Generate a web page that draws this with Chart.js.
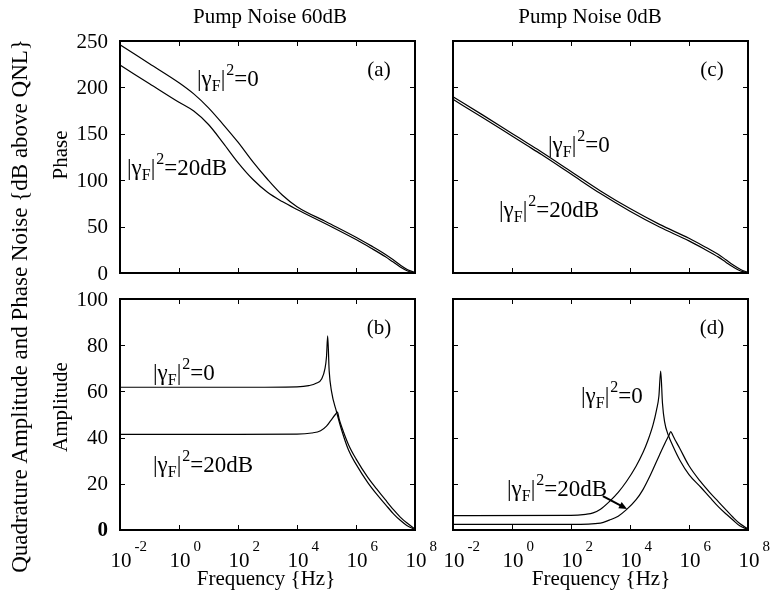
<!DOCTYPE html>
<html>
<head>
<meta charset="utf-8">
<title>Quadrature noise spectra</title>
<script src="https://cdn.jsdelivr.net/npm/chart.js@4.4.0/dist/chart.umd.min.js"></script>
<style>
  html, body { margin: 0; padding: 0; background: #fff; }
  #wrap { position: relative; width: 770px; height: 597px; background: #fff; }
  #wrap canvas { position: absolute; left: 0; top: 0; }
</style>
</head>
<body>
<div id="wrap">
  <canvas id="chartA" width="770" height="597"></canvas>
  <canvas id="chartB" width="770" height="597"></canvas>
  <canvas id="chartC" width="770" height="597"></canvas>
  <canvas id="chartD" width="770" height="597"></canvas>
</div>
<script>
// --- values; x is given as log10(frequency / Hz) ---
const xTickExp = [-2, 0, 2, 4, 6, 8];
const phaseTicks = [0, 50, 100, 150, 200, 250];
const ampTicks = [0, 20, 40, 60, 80, 100];

// (a) phase, pump noise 60dB
const expA = [-2, -1, 0, 0.5, 1, 1.5, 2, 2.5, 3, 3.5, 4, 5, 6, 6.5, 7, 7.25, 7.5, 7.75, 8];
const phaseA0 = [246, 225.5, 205, 193, 178, 160, 141, 120, 101, 84, 71.5, 55, 38.5, 29.5, 20, 14.5, 8.5, 3.5, 0.6];
const phaseA20 = [224, 204, 184, 174.5, 160, 140, 119, 101, 87, 77, 68.5, 52.5, 36, 27, 17.5, 12, 6.5, 2.2, 0.2];

// (c) phase, pump noise 0dB
const expC = [-2, -1, 0, 0.5, 1, 2, 3, 4, 5, 6, 6.5, 7, 7.25, 7.5, 7.75, 8];
const phaseC0 = [190, 170.4, 150.4, 140.4, 130.4, 109.4, 88.4, 69.4, 52.4, 37.4, 28.9, 19.9, 14.3, 8.6, 3.8, 0.7];
const phaseC20 = [187.1, 167.6, 147.6, 137.6, 127.6, 106.6, 85.6, 66.6, 49.6, 34.6, 26.1, 17.1, 11.7, 6.4, 2.2, 0.3];

// (b) amplitude, pump noise 60dB
const expB0 = [-2, 2, 4, 4.4, 4.65, 4.84, 4.95, 5.0, 5.04, 5.09, 5.17, 5.34, 5.51, 5.75, 6.0, 6.4, 6.7, 7.0, 7.27, 7.5, 7.72, 8];
const ampB0 = [61.8, 61.8, 62, 62.5, 63.5, 65.5, 70, 75, 84, 69, 60, 51.2, 43.4, 34.5, 28.5, 20.5, 15.5, 11, 7, 4.2, 2, 0.2];
const expB20 = [-2, 2, 4, 4.5, 4.8, 5.0, 5.15, 5.3, 5.37, 5.43, 5.51, 5.75, 6.0, 6.4, 6.7, 7.0, 7.27, 7.5, 7.72, 8];
const ampB20 = [41.4, 41.4, 41.5, 42, 43, 45, 47.5, 50, 51, 48, 44.8, 36.8, 30.8, 22.8, 17.8, 13, 8.8, 5.6, 3.1, 0.5];

// (d) amplitude, pump noise 0dB
const expD0 = [-2, 2, 2.5, 2.75, 3.0, 3.3, 3.6, 3.88, 4.2, 4.44, 4.6, 4.78, 4.9, 4.98, 5.04, 5.1, 5.17, 5.3, 5.45, 5.7, 6.0, 6.4, 6.7, 7.0, 7.27, 7.5, 7.72, 8];
const ampD0 = [6.2, 6.3, 6.8, 7.4, 9, 12.3, 16.3, 21, 27.5, 33.5, 38.5, 45.5, 52, 58, 68.8, 55, 47, 41, 36.5, 30, 24, 18.5, 14.2, 10, 6.8, 4.2, 1.8, 0.2];
const expD20 = [-2, 2, 3.0, 3.3, 3.6, 3.88, 4.2, 4.44, 4.7, 5.0, 5.2, 5.32, 5.38, 5.45, 5.55, 5.68, 6.0, 6.4, 6.7, 7.0, 7.27, 7.5, 7.72, 8];
const ampD20 = [2.4, 2.45, 3.0, 4.3, 6, 8.8, 13, 17.5, 24, 32.5, 38, 41, 42.6, 41, 38.5, 35.5, 27.8, 20.8, 16.3, 12.2, 8.5, 5.4, 2.8, 0.5];

const SERIF = '"Liberation Serif", "Times New Roman", serif';

function toPoints(exps, vals) {
  return exps.map((e, i) => ({ x: Math.pow(10, e), y: vals[i] }));
}

function curve(exps, vals) {
  return {
    data: toPoints(exps, vals),
    borderColor: '#000',
    borderWidth: 1.2,
    pointRadius: 0,
    fill: false,
    cubicInterpolationMode: 'monotone'
  };
}

// |γ_F|^2 = tail, drawn from x with baseline y
function drawGamma(ctx, x, y, tail) {
  ctx.textAlign = 'left';
  ctx.textBaseline = 'alphabetic';
  let cx = x;
  ctx.font = '23px ' + SERIF;
  ctx.fillText('|γ', cx, y);
  cx += ctx.measureText('|γ').width;
  ctx.font = '16px ' + SERIF;
  ctx.fillText('F', cx, y + 5);
  cx += ctx.measureText('F').width;
  ctx.font = '23px ' + SERIF;
  ctx.fillText('|', cx, y);
  cx += ctx.measureText('|').width + 1;
  ctx.font = '16px ' + SERIF;
  ctx.fillText('2', cx, y - 11);
  cx += ctx.measureText('2').width;
  ctx.font = '23px ' + SERIF;
  ctx.fillText('=' + tail, cx, y);
}

function rotatedText(ctx, text, x, y) {
  ctx.save();
  ctx.translate(x, y);
  ctx.rotate(-Math.PI / 2);
  ctx.textAlign = 'center';
  ctx.textBaseline = 'middle';
  ctx.fillText(text, 0, 0);
  ctx.restore();
}

function panelPlugin(p) {
  return {
    id: 'panel' + p.tag,
    afterDraw(chart) {
      const ctx = chart.ctx;
      const xs = chart.scales.x, ys = chart.scales.y;
      const a = chart.chartArea;
      ctx.save();
      ctx.fillStyle = '#000';
      ctx.strokeStyle = '#000';

      // inward tick marks on all four sides
      ctx.lineWidth = 1;
      ctx.beginPath();
      xTickExp.forEach(e => {
        const px = Math.round(xs.getPixelForValue(Math.pow(10, e))) + 0.5;
        ctx.moveTo(px, a.bottom); ctx.lineTo(px, a.bottom - 5);
        ctx.moveTo(px, a.top); ctx.lineTo(px, a.top + 5);
      });
      p.yTicks.forEach(v => {
        const py = Math.round(ys.getPixelForValue(v)) + 0.5;
        ctx.moveTo(a.left, py); ctx.lineTo(a.left + 5, py);
        ctx.moveTo(a.right, py); ctx.lineTo(a.right - 5, py);
      });
      ctx.stroke();

      ctx.lineWidth = 2;
      ctx.strokeRect(a.left, a.top, a.right - a.left, a.bottom - a.top);

      // y tick labels (left column only)
      if (p.yLabels) {
        ctx.textAlign = 'right';
        ctx.textBaseline = 'middle';
        p.yTicks.forEach(v => {
          ctx.font = (p.boldZero && v === 0 ? 'bold ' : '') + '21px ' + SERIF;
          ctx.fillText(String(v), a.left - 12, ys.getPixelForValue(v) + 1);
        });
      }

      // x tick labels as 10 with a raised exponent (bottom row only)
      if (p.xLabels) {
        xTickExp.forEach(e => {
          const px = xs.getPixelForValue(Math.pow(10, e)) + 1;
          ctx.font = '21px ' + SERIF;
          ctx.textAlign = 'center';
          ctx.textBaseline = 'middle';
          const w = ctx.measureText('10').width;
          ctx.fillText('10', px, a.bottom + 31);
          ctx.font = '15px ' + SERIF;
          ctx.textAlign = 'left';
          ctx.fillText(String(e), px + w / 2 + 3, a.bottom + 17);
        });
        ctx.font = '21px ' + SERIF;
        ctx.textAlign = 'center';
        ctx.textBaseline = 'middle';
        ctx.fillText('Frequency {Hz}', p.xTitleX, a.bottom + 49);
      }

      // panel letter
      ctx.font = '21px ' + SERIF;
      ctx.textAlign = 'center';
      ctx.textBaseline = 'middle';
      ctx.fillText(p.letter, a.right - 36, a.top + 29);

      // curve labels
      drawGamma(ctx, p.lab0[0], p.lab0[1], '0');
      drawGamma(ctx, p.lab20[0], p.lab20[1], '20dB');

      if (p.extra) p.extra(ctx, chart);
      ctx.restore();
    }
  };
}

function makePanel(canvasId, p) {
  new Chart(document.getElementById(canvasId), {
    type: 'line',
    data: { datasets: p.datasets },
    options: {
      responsive: false,
      animation: false,
      devicePixelRatio: 1,
      layout: { padding: { left: p.area[0], top: p.area[1], right: 770 - p.area[2], bottom: 597 - p.area[3] } },
      plugins: { legend: { display: false }, tooltip: { enabled: false } },
      scales: {
        x: { type: 'logarithmic', min: 1e-2, max: 1e8, display: false },
        y: { type: 'linear', min: 0, max: p.yMax, display: false }
      }
    },
    plugins: [panelPlugin(p)]
  });
}

makePanel('chartA', {
  tag: 'A', area: [120, 41, 415, 273], yMax: 250, yTicks: phaseTicks,
  yLabels: true, xLabels: false, letter: '(a)',
  lab0: [197, 86], lab20: [127, 175],
  datasets: [curve(expA, phaseA0), curve(expA, phaseA20)],
  extra(ctx) {
    ctx.font = '21px ' + SERIF;
    ctx.textAlign = 'center';
    ctx.textBaseline = 'middle';
    ctx.fillText('Pump Noise 60dB', 270, 17);
    rotatedText(ctx, 'Phase', 61, 155);
    ctx.font = '23px ' + SERIF;
    rotatedText(ctx, 'Quadrature Amplitude and Phase Noise {dB above QNL}', 21, 306);
  }
});

makePanel('chartB', {
  tag: 'B', area: [120, 299, 415, 530], yMax: 100, yTicks: ampTicks,
  yLabels: true, boldZero: true, xLabels: true, xTitleX: 266, letter: '(b)',
  lab0: [153, 380], lab20: [153, 472],
  datasets: [curve(expB0, ampB0), curve(expB20, ampB20)],
  extra(ctx) {
    ctx.font = '21px ' + SERIF;
    rotatedText(ctx, 'Amplitude', 61, 407);
  }
});

makePanel('chartC', {
  tag: 'C', area: [453, 41, 748, 273], yMax: 250, yTicks: phaseTicks,
  yLabels: false, xLabels: false, letter: '(c)',
  lab0: [548, 152], lab20: [499, 217],
  datasets: [curve(expC, phaseC0), curve(expC, phaseC20)],
  extra(ctx) {
    ctx.font = '21px ' + SERIF;
    ctx.textAlign = 'center';
    ctx.textBaseline = 'middle';
    ctx.fillText('Pump Noise 0dB', 590, 17);
  }
});

makePanel('chartD', {
  tag: 'D', area: [453, 299, 748, 530], yMax: 100, yTicks: ampTicks,
  yLabels: false, xLabels: true, xTitleX: 601, letter: '(d)',
  lab0: [581, 403], lab20: [507, 496],
  datasets: [curve(expD0, ampD0), curve(expD20, ampD20)],
  extra(ctx, chart) {
    // arrow from the 20dB label to its curve, placed in data units
    const xs = chart.scales.x, ys = chart.scales.y;
    const x0 = xs.getPixelForValue(Math.pow(10, 3.08)), y0 = ys.getPixelForValue(14.7);
    const x1 = xs.getPixelForValue(Math.pow(10, 3.9)), y1 = ys.getPixelForValue(9.1);
    const ang = Math.atan2(y1 - y0, x1 - x0);
    ctx.lineWidth = 2;
    ctx.beginPath();
    ctx.moveTo(x0, y0);
    ctx.lineTo(x1 - 6 * Math.cos(ang), y1 - 6 * Math.sin(ang));
    ctx.stroke();
    ctx.beginPath();
    ctx.moveTo(x1, y1);
    ctx.lineTo(x1 - 8 * Math.cos(ang) + 3.5 * Math.sin(ang), y1 - 8 * Math.sin(ang) - 3.5 * Math.cos(ang));
    ctx.lineTo(x1 - 8 * Math.cos(ang) - 3.5 * Math.sin(ang), y1 - 8 * Math.sin(ang) + 3.5 * Math.cos(ang));
    ctx.closePath();
    ctx.fill();
  }
});
</script>
</body>
</html>
